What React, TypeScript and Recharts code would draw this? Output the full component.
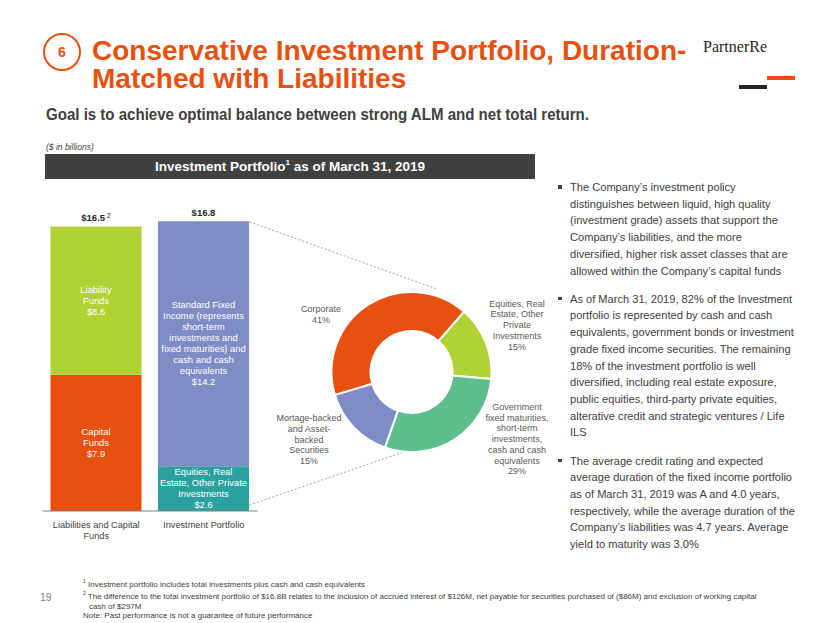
import React from 'react';
import { BarChart, Bar, XAxis, YAxis, Cell, LabelList, PieChart, Pie } from 'recharts';

// bar chart data ($ in billions)
const barCategories = ['Liabilities and Capital Funds', 'Investment Portfolio'];
const bottomValues = [7.9, 2.6];
const topValues = [8.6, 14.2];
const bottomNames = [['Capital', 'Funds'], ['Equities, Real', 'Estate, Other Private', 'Investments']];
const topNames = [
  ['Liability', 'Funds'],
  ['Standard Fixed', 'Income (represents', 'short-term', 'investments and', 'fixed maturities) and', 'cash and cash', 'equivalents'],
];
const totalFootnotes = ['2', ''];
const categoryLines = [['Liabilities and Capital', 'Funds'], ['Investment Portfolio']];

// donut data (% of standard fixed income)
const pieNames = ['Equities, Real Estate, Other Private Investments', 'Government', 'Mortage-backed', 'Corporate'];
const pieValues = [15, 29, 15, 41];
const pieLabelLines = [
  ['Equities, Real', 'Estate, Other', 'Private', 'Investments'],
  ['Government', 'fixed maturities,', 'short-term', 'investments,', 'cash and cash', 'equivalents'],
  ['Mortage-backed', 'and Asset-', 'backed', 'Securities'],
  ['Corporate'],
];

const bulletParagraphs = [
  [
    'The Company\u2019s investment policy',
    'distinguishes between liquid, high quality',
    '(investment grade) assets that support the',
    'Company\u2019s liabilities, and the more',
    'diversified, higher risk asset classes that are',
    'allowed within the Company\u2019s capital funds',
  ],
  [
    'As of March 31, 2019, 82% of the Investment',
    'portfolio is represented by cash and cash',
    'equivalents, government bonds or investment',
    'grade fixed income securities. The remaining',
    '18% of the investment portfolio is well',
    'diversified, including real estate exposure,',
    'public equities, third-party private equities,',
    'alterative credit and strategic ventures / Life',
    'ILS',
  ],
  [
    'The average credit rating and expected',
    'average duration of the fixed income portfolio',
    'as of March 31, 2019 was A and 4.0 years,',
    'respectively, while the average duration of the',
    'Company\u2019s liabilities was 4.7 years. Average',
    'yield to maturity was 3.0%',
  ],
];

const ORANGE = '#E8500F';
const bottomColors = [ORANGE, '#2AA19E'];
const topColors = ['#B1D235', '#7F8CC5'];
const pieColors = ['#B1D235', '#5DBE8B', '#7F8CC5', ORANGE];
const labelOffsets = [[105.5, -47], [105.5, 67], [-102.5, 67.5], [-90.5, -57.5]];

const FONT = '"Liberation Sans", Arial, sans-serif';
const GRAY = '#404040';

const barData = barCategories.map((name, i) => ({
  name,
  bottom: bottomValues[i],
  top: topValues[i],
  total: Math.round((bottomValues[i] + topValues[i]) * 10) / 10,
}));

const pieData = pieNames.map((name, i) => ({ name, value: pieValues[i] }));

const segmentLabel = (names: string[][], values: number[]) => (props: any) => {
  const { x, y, width, height, index } = props;
  const lines = [...names[index], `$${values[index].toFixed(1)}`];
  const lh = 11;
  const cx = x + width / 2;
  const cy = y + height / 2;
  return (
    <text x={cx} textAnchor="middle" fill="#fff" fontSize={9.4} fontFamily={FONT}>
      {lines.map((l, i) => (
        <tspan key={i} x={cx} y={cy + (i - (lines.length - 1) / 2) * lh} dy="0.35em">
          {l}
        </tspan>
      ))}
    </text>
  );
};

const totalLabel = (props: any) => {
  const { x, y, width, index } = props;
  const d = barData[index];
  return (
    <text x={x + width / 2} y={y - 9} dy="0.35em" textAnchor="middle" fill="#262626" fontSize={9.5} fontWeight="bold" fontFamily={FONT}>
      ${d.total.toFixed(1)}
      {totalFootnotes[index] && (
        <tspan dx={2} dy={-3} fontSize={6.5} fontWeight="normal">
          {totalFootnotes[index]}
        </tspan>
      )}
    </text>
  );
};

const CategoryTick = (props: any) => {
  const { x, y, index } = props;
  const lines = categoryLines[index] || [];
  return (
    <text x={x} textAnchor="middle" fill={GRAY} fontSize={9.2} fontFamily={FONT}>
      {lines.map((l, i) => (
        <tspan key={i} x={x} y={y + 6 + i * 11} dy="0.35em">
          {l}
        </tspan>
      ))}
    </text>
  );
};

const pieLabel = (props: any) => {
  const { cx, cy, index } = props;
  const lines = [...pieLabelLines[index], `${pieValues[index]}%`];
  const [ox, oy] = labelOffsets[index];
  const lh = 10.7;
  return (
    <text x={cx + ox} textAnchor="middle" fill="#595959" fontSize={9} fontFamily={FONT}>
      {lines.map((l, i) => (
        <tspan key={i} x={cx + ox} y={cy + oy + (i - (lines.length - 1) / 2) * lh} dy="0.35em">
          {l}
        </tspan>
      ))}
    </text>
  );
};

export default function App() {
  return (
    <div
      style={{
        position: 'absolute',
        left: 0,
        top: 0,
        width: 830,
        height: 623,
        background: '#fff',
        overflow: 'hidden',
        fontFamily: FONT,
      }}
    >
      {/* section badge */}
      <div
        style={{
          position: 'absolute',
          left: 43,
          top: 33,
          width: 34,
          height: 34,
          borderRadius: '50%',
          border: `2px solid ${ORANGE}`,
          color: ORANGE,
          fontWeight: 'bold',
          fontSize: 14,
          lineHeight: '34px',
          textAlign: 'center',
        }}
      >
        6
      </div>
      <div
        style={{
          position: 'absolute',
          left: 92,
          top: 37,
          color: ORANGE,
          fontWeight: 'bold',
          fontSize: 28,
          lineHeight: '28px',
          whiteSpace: 'nowrap',
        }}
      >
        <div>Conservative Investment Portfolio, Duration-</div>
        <div>Matched with Liabilities</div>
      </div>
      <div style={{ position: 'absolute', left: 703, top: 38, fontFamily: '"Liberation Serif", serif', fontSize: 16, color: '#262626' }}>
        PartnerRe
      </div>
      <div
        style={{
          position: 'absolute',
          left: 46,
          top: 105,
          color: GRAY,
          fontWeight: 'bold',
          fontSize: 16.5,
          whiteSpace: 'nowrap',
          transform: 'scaleX(0.912)',
          transformOrigin: 'left top',
        }}
      >
        Goal is to achieve optimal balance between strong ALM and net total return.
      </div>
      <div style={{ position: 'absolute', left: 46, top: 142, fontSize: 8.5, fontStyle: 'italic', color: GRAY }}>
        ($ in billions)
      </div>
      <div
        style={{
          position: 'absolute',
          left: 45,
          top: 154,
          width: 490,
          height: 25,
          background: '#404040',
          color: '#fff',
          fontWeight: 'bold',
          fontSize: 13.5,
          lineHeight: '25px',
          textAlign: 'center',
          whiteSpace: 'nowrap',
        }}
      >
        Investment Portfolio<sup style={{ fontSize: 8, verticalAlign: 'top', lineHeight: '18px' }}>1</sup> as of March 31, 2019
      </div>

      {/* connectors and logo marks */}
      <svg width={830} height={623} style={{ position: 'absolute', left: 0, top: 0 }}>
        <line x1={249.5} y1={222} x2={437} y2={289} stroke="#8c8c8c" strokeWidth={0.8} strokeDasharray="2 2" />
        <line x1={249.5} y1={505} x2={421} y2={446} stroke="#8c8c8c" strokeWidth={0.8} strokeDasharray="2 2" />
        <rect x={767} y={76} width={28} height={4} fill={ORANGE} />
        <rect x={739} y={85} width={28} height={4} fill="#262626" />
      </svg>

      <div style={{ position: 'absolute', left: 0, top: 0 }}>
        <BarChart
          width={270}
          height={560}
          data={barData}
          margin={{ top: 200.5, left: 42.5, right: 12.5, bottom: 19 }}
          barSize={91}
        >
          <YAxis hide domain={[0, 18]} />
          <XAxis
            dataKey="name"
            height={30}
            axisLine={{ stroke: '#7f7f7f', strokeWidth: 1 }}
            tickLine={false}
            tick={<CategoryTick />}
            interval={0}
          />
          <Bar dataKey="bottom" stackId="a" isAnimationActive={false}>
            {barData.map((_, i) => (
              <Cell key={i} fill={bottomColors[i]} />
            ))}
            <LabelList dataKey="bottom" content={segmentLabel(bottomNames, bottomValues)} />
          </Bar>
          <Bar dataKey="top" stackId="a" isAnimationActive={false}>
            {barData.map((_, i) => (
              <Cell key={i} fill={topColors[i]} />
            ))}
            <LabelList dataKey="top" content={segmentLabel(topNames, topValues)} />
            <LabelList dataKey="total" content={totalLabel} />
          </Bar>
        </BarChart>
      </div>

      <div style={{ position: 'absolute', left: 250, top: 260 }}>
        <PieChart width={320} height={230}>
          <Pie
            data={pieData}
            dataKey="value"
            nameKey="name"
            cx={156.5}
            cy={107}
            innerRadius={41}
            outerRadius={80}
            startAngle={49}
            endAngle={-311}
            stroke="#fff"
            strokeWidth={2}
            label={pieLabel}
            labelLine={false}
            isAnimationActive={false}
          >
            {pieData.map((_, i) => (
              <Cell key={i} fill={pieColors[i]} />
            ))}
          </Pie>
        </PieChart>
      </div>

      {/* commentary */}
      <div style={{ position: 'absolute', left: 570, top: 179, fontSize: 11.1, lineHeight: '16.7px', color: GRAY }}>
        {bulletParagraphs.map((p, pi) => (
          <div key={pi} style={{ position: 'relative', marginBottom: 11.5 }}>
            <div style={{ position: 'absolute', left: -12, top: 6, width: 3.5, height: 3.5, background: GRAY }} />
            {p.map((l, li) => (
              <div key={li} style={{ whiteSpace: 'nowrap' }}>
                {l}
              </div>
            ))}
          </div>
        ))}
      </div>

      {/* footnotes */}
      <div style={{ position: 'absolute', left: 40, top: 591, fontSize: 10.5, color: '#7f7f7f' }}>19</div>
      <div
        style={{
          position: 'absolute',
          left: 83,
          top: 577,
          fontSize: 8,
          lineHeight: '9.7px',
          color: GRAY,
          whiteSpace: 'nowrap',
        }}
      >
        <div>
          <sup style={{ fontSize: 5 }}>1</sup> Investment portfolio includes total investments plus cash and cash equivalents
        </div>
        <div>
          <sup style={{ fontSize: 5 }}>2</sup> The difference to the total investment portfolio of $16.8B relates to the inclusion of accrued
          interest of $126M, net payable for securities purchased of ($86M) and exclusion of working capital
        </div>
        <div style={{ paddingLeft: 6 }}>cash of $297M</div>
        <div>Note: Past performance is not a guarantee of future performance</div>
      </div>
    </div>
  );
}
